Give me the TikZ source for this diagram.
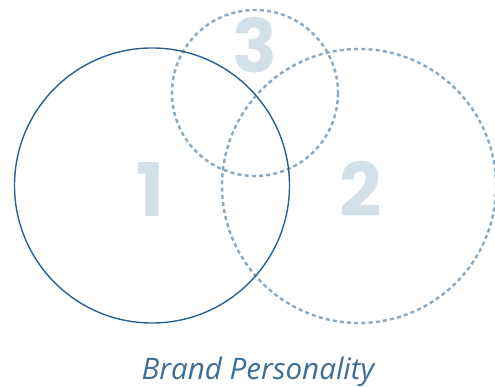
\documentclass[tikz,border=0pt]{standalone}
\usepackage{fontspec}
\setmainfont{Poppins}
\newfontfamily\captionfont{Open Sans}
\definecolor{solidblue}{HTML}{2A6190}
\definecolor{dotblue}{HTML}{8AA8BF}
\definecolor{numgray}{HTML}{D3E0E8}
\definecolor{captionblue}{HTML}{3E6D96}
\tikzset{
  solidring/.style={draw=solidblue, line width=1.4pt},
  dotring/.style={draw=dotblue, line width=2.4pt, dash pattern=on 4pt off 3.2pt},
  bignum/.style={text=numgray, font=\fontsize{74}{74}\selectfont\bfseries, inner sep=0pt, anchor=base},
}
\begin{document}
\begin{tikzpicture}[x=1pt,y=-1pt]
\useasboundingbox (0,0) rectangle (495,387);
\node[bignum] (n1) at (150,217) {1};
\node[bignum] (n2) at (361,217) {2};
\node[bignum] (n3) at (255,73) {3};
\draw[dotring] (255,93) circle (83);
\draw[dotring] (359,186) circle (137);
\draw[solidring] (152,185.5) circle (137.5);
\node[text=captionblue, font=\captionfont\itshape\fontsize{29.6}{29.6}\selectfont, anchor=base, inner sep=0pt] (cap) at (258,379) {Brand Personality};
\end{tikzpicture}
\end{document}
